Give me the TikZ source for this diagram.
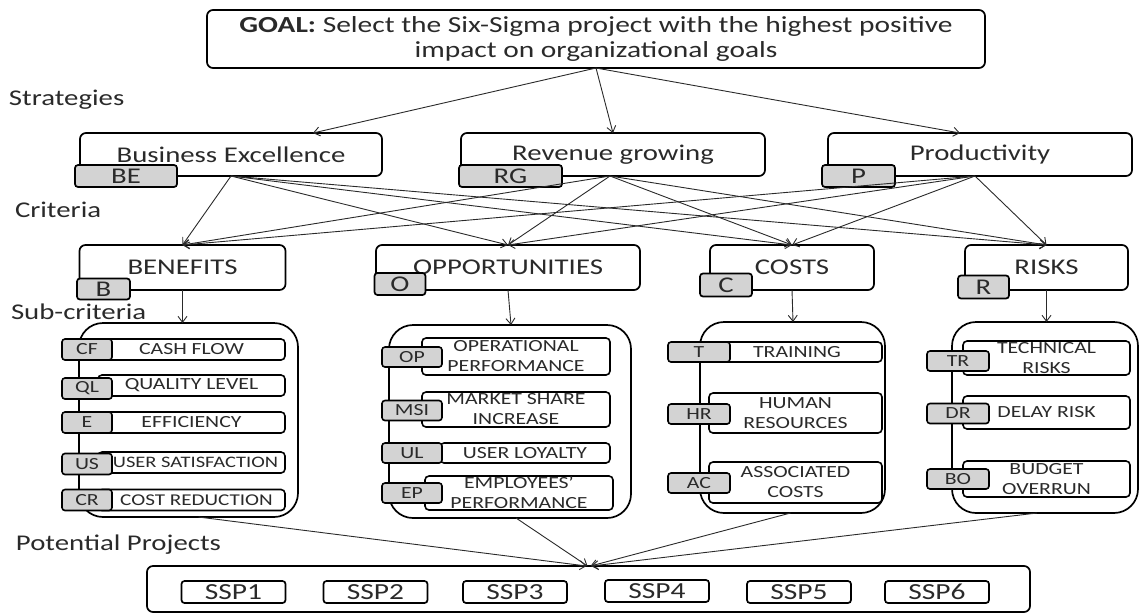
\documentclass[tikz,border=0pt]{standalone}
\usepackage{fontspec}
\setmainfont{Carlito}[FakeStretch=1.28]
\usetikzlibrary{arrows.meta,calc}
\definecolor{tagfill}{HTML}{D3D3D3}
\definecolor{ink}{HTML}{2A2A2A}
\newcommand\goalfont{\fontsize{23}{25}\selectfont}
\newcommand\headfont{\fontsize{22.5}{26}\selectfont}
\newcommand\itemfont{\fontsize{17}{20}\selectfont}
\newcommand\sspfont{\fontsize{23}{26}\selectfont}
\begin{document}
\begin{tikzpicture}[x=1pt,y=-1pt,
  every node/.style={inner sep=0pt,outer sep=0pt,text=ink},
  box/.style={draw=black,line width=1.7pt,rounded corners=6pt,fill=white,font=\headfont},
  tagbox/.style={draw=black,line width=1.7pt,rounded corners=3pt,fill=tagfill,font=\headfont},
  smalltag/.style={draw=black,line width=1.6pt,rounded corners=3pt,fill=tagfill,font=\itemfont,minimum height=20},
  group/.style={draw=black,line width=1.7pt,rounded corners=24pt,fill=white},
  item/.style={draw=black,line width=1.6pt,rounded corners=4pt,fill=white,align=center,font=\itemfont},
  ssp/.style={draw=black,line width=1.7pt,rounded corners=3pt,fill=white,font=\sspfont,minimum width=104,minimum height=22},
  sidelabel/.style={anchor=west,font=\headfont},
  link/.style={-{Straight Barb[length=6pt,width=9pt]},line width=0.9pt,draw=ink}]
\useasboundingbox (0,0) rectangle (1139,614);

% goal
\node[box,minimum width=778,minimum height=58,align=center,font=\goalfont] (goal) at (596,39)
  {\textbf{GOAL:} Select the Six-Sigma project with the highest positive\\impact on organizational goals};

% level labels
\node[sidelabel] (lstrat) at (9,100) {Strategies};
\node[sidelabel] (lcrit) at (15,210) {Criteria};
\node[sidelabel] (lsub) at (11,312) {Sub-criteria};
\node[sidelabel] (lpot) at (16,545) {Potential Projects};

% strategies
\node[box,minimum width=302,minimum height=43] (be) at (231,154.5) {Business Excellence};
\node[box,minimum width=304,minimum height=43] (rg) at (613,154.5) {Revenue growing};
\node[box,minimum width=304,minimum height=43] (pr) at (980,154.5) {Productivity};
\node[tagbox,minimum width=102,minimum height=22] (betag) at (126,176) {BE};
\node[tagbox,minimum width=103,minimum height=22] (rgtag) at (510.5,176) {RG};
\node[tagbox,minimum width=73,minimum height=22] (prtag) at (858.5,176) {P};

% criteria
\node[box,minimum width=206,minimum height=45] (ben) at (182.5,267.5) {BENEFITS};
\node[box,minimum width=264,minimum height=45] (opp) at (508,267.5) {OPPORTUNITIES};
\node[box,minimum width=164,minimum height=45] (cost) at (792,267.5) {COSTS};
\node[box,minimum width=163,minimum height=45] (risk) at (1046.5,267.5) {RISKS};
\node[tagbox,minimum width=53,minimum height=21] (bentag) at (103.5,289) {B};
\node[tagbox,minimum width=51,minimum height=22] (opptag) at (400,284) {O};
\node[tagbox,minimum width=52,minimum height=23] (costtag) at (726,285) {C};
\node[tagbox,minimum width=51,minimum height=23] (risktag) at (983.5,287) {R};

% arrows from the goal
\draw[link] (goal.south) -- ($(be.north)+(82,0)$);
\draw[link] (goal.south) -- (rg.north);
\draw[link] (goal.south) -- ($(pr.north)+(-20,0)$);

% arrows from strategies to criteria
\foreach \s/\dx in {be/0,rg/-3,pr/-5}
  \foreach \c in {ben,opp,cost,risk}
    \draw[link] ($(\s.south)+(\dx,0)$) -- (\c.north);

% sub-criteria groups
\node[group,minimum width=219,minimum height=194] (gben) at (188.5,420) {};
\node[group,minimum width=242,minimum height=193] (gopp) at (510,421.5) {};
\node[group,minimum width=185,minimum height=191] (gcost) at (792.5,417.5) {};
\node[group,minimum width=186,minimum height=191] (grisk) at (1045,417.5) {};

\draw[link] (ben.south) -- (ben.south |- gben.north);
\draw[link] (opp.south) -- ($(opp.south |- gopp.north)+(3,0)$);
\draw[link] (cost.south) -- ($(cost.south |- gcost.north)+(1,0)$);
\draw[link] (risk.south) -- (risk.south |- grisk.north);

% benefits sub-criteria
\node[item,minimum width=187,minimum height=21] (cf) at (191.5,349.5) {CASH FLOW};
\node[item,minimum width=187,minimum height=21] (ql) at (191.5,385.5) {QUALITY LEVEL};
\node[item,minimum width=187,minimum height=21] (ef) at (191.5,422.5) {EFFICIENCY};
\node[item,minimum width=187,minimum height=21] (us) at (191.5,462.5) {\hspace*{8pt}{\fontsize{16}{20}\selectfont USER SATISFACTION}};
\node[item,minimum width=187,minimum height=21] (cr) at (191.5,500) {\hspace*{10pt}{\fontsize{16.5}{20}\selectfont COST REDUCTION}};
\node[smalltag,minimum width=50,minimum height=21] (cftag) at (87,349.5) {CF};
\node[smalltag,minimum width=50,minimum height=21] (qltag) at (87,388.5) {QL};
\node[smalltag,minimum width=50,minimum height=21] (eftag) at (87,422.5) {E};
\node[smalltag,minimum width=50,minimum height=21] (ustag) at (87,464) {US};
\node[smalltag,minimum width=50,minimum height=21] (crtag) at (87,500) {CR};

% opportunities sub-criteria
\node[item,minimum width=188,minimum height=37] (op) at (516,356.5) {OPERATIONAL\\PERFORMANCE};
\node[item,minimum width=188,minimum height=35] (msi) at (516,409.5) {MARKET SHARE\\INCREASE};
\node[item,minimum width=170,minimum height=20] (ul) at (525,453) {USER LOYALTY};
\node[item,minimum width=188,minimum height=34] (ep) at (519,493) {EMPLOYEES’\\PERFORMANCE};
\node[smalltag,minimum width=60] (optag) at (412,357) {OP};
\node[smalltag,minimum width=60] (msitag) at (412,410.5) {MSI};
\node[smalltag,minimum width=60] (ultag) at (412,453) {UL};
\node[smalltag,minimum width=60] (eptag) at (412,493) {EP};

% costs sub-criteria
\node[item,minimum width=170,minimum height=20] (tr) at (797,352) {TRAINING};
\node[item,minimum width=173,minimum height=40] (hr) at (795.5,413) {HUMAN\\RESOURCES};
\node[item,minimum width=173,minimum height=41] (ac) at (795.5,482.5) {ASSOCIATED\\COSTS};
\node[smalltag,minimum width=62] (trtag) at (699,352) {T};
\node[smalltag,minimum width=62] (hrtag) at (699,414) {HR};
\node[smalltag,minimum width=62] (actag) at (699,483) {AC};

% risks sub-criteria
\node[item,minimum width=167,minimum height=34] (tk) at (1046.5,358) {TECHNICAL\\RISKS};
\node[item,minimum width=167,minimum height=33] (dr) at (1046.5,412.5) {DELAY RISK};
\node[item,minimum width=167,minimum height=36] (bo) at (1046.5,479) {BUDGET\\OVERRUN};
\node[smalltag,minimum width=62] (tktag) at (958,361) {TR};
\node[smalltag,minimum width=62] (drtag) at (958,413.5) {DR};
\node[smalltag,minimum width=62] (botag) at (958,479) {BO};

% potential projects
\node[draw=black,line width=1.7pt,rounded corners=6pt,minimum width=883,minimum height=46] (proj) at (588.5,589) {};
\node[ssp] (s1) at (233.5,592) {SSP1};
\node[ssp] (s2) at (375.5,592) {SSP2};
\node[ssp] (s3) at (515,592) {SSP3};
\node[ssp] (s4) at (657,591) {SSP4};
\node[ssp] (s5) at (799,592) {SSP5};
\node[ssp] (s6) at (937,592) {SSP6};

\draw[link] ($(gben.south)+(10,0)$) -- ($(proj.north)+(-2,0)$);
\draw[link] ($(gopp.south)+(6,0)$) -- ($(proj.north)+(-1,0)$);
\draw[link] ($(gcost.south)+(-2,0)$) -- ($(proj.north)+(2,0)$);
\draw[link] ($(grisk.south)+(-8,0)$) -- ($(proj.north)+(3,0)$);
\end{tikzpicture}
\end{document}
